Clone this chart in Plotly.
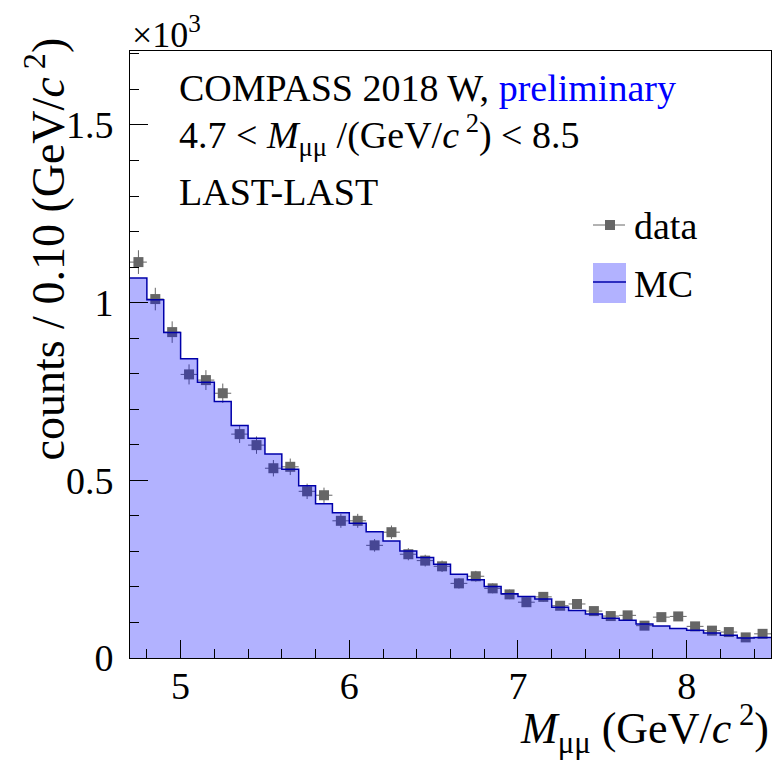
import numpy as np
import plotly.graph_objects as go

# Dimuon invariant mass bins (GeV/c^2), bin width 0.10
bin_centers = [4.75, 4.85, 4.95, 5.05, 5.15, 5.25, 5.35, 5.45, 5.55, 5.65,
               5.75, 5.85, 5.95, 6.05, 6.15, 6.25, 6.35, 6.45, 6.55, 6.65,
               6.75, 6.85, 6.95, 7.05, 7.15, 7.25, 7.35, 7.45, 7.55, 7.65,
               7.75, 7.85, 7.95, 8.05, 8.15, 8.25, 8.35, 8.45]

# Measured counts per bin
data_counts = [1114, 1010, 917, 798, 782, 745, 630, 599, 534, 538,
               469, 458, 386, 386, 317, 354, 292, 274, 258, 210,
               230, 196, 179, 157, 172, 147, 152, 132, 118, 120,
               91, 115, 117, 89, 77, 73, 58, 68]

# Monte Carlo expectation per bin
mc_counts = [1069, 1008, 916, 842, 776, 722, 654, 618, 574, 531,
             485, 434, 409, 379, 355, 329, 301, 283, 264, 236,
             220, 201, 181, 173, 166, 143, 134, 124, 112, 106,
             96, 90, 83, 78, 70, 64, 56, 58]

BIN_W = 0.10
SCALE = 1000.0  # y axis shown in units of 10^3

x_c = np.array(bin_centers)
y_data = np.array(data_counts) / SCALE
y_err = np.sqrt(np.array(data_counts)) / SCALE
y_mc = np.array(mc_counts) / SCALE

# step outline for the MC histogram
edges = np.append(x_c - BIN_W / 2, x_c[-1] + BIN_W / 2)
mc_steps = np.append(y_mc, y_mc[-1])

FONT = "Liberation Serif, Times New Roman, serif"
GRAY = "#666666"
MC_FILL = "rgba(0,0,255,0.30)"
MC_LINE = "#0000aa"

fig = go.Figure()

fig.add_trace(go.Scatter(
    x=x_c, y=y_data, mode="markers", name="data",
    marker=dict(symbol="square", size=10, color=GRAY),
    error_y=dict(type="data", array=y_err, visible=True,
                 thickness=1, width=0, color=GRAY),
    error_x=dict(type="constant", value=BIN_W / 2, visible=True,
                 thickness=1, width=0, color=GRAY),
    showlegend=False,
))

# MC histogram drawn over the data, semi-transparent
fig.add_trace(go.Scatter(
    x=edges, y=mc_steps, mode="lines", name="MC",
    line=dict(shape="hv", color=MC_LINE, width=1.5),
    fill="tozeroy", fillcolor=MC_FILL,
    showlegend=False,
))

L, R, T, B = 130, 6, 51, 102
W, H = 777, 760
PW = W - L - R
PH = H - T - B


def px(xp):
    return (xp - L) / PW


def py(yp):
    return (H - B - yp) / PH


annotations = [
    dict(text="×10<sup>3</sup>", x=0, y=1.0, xanchor="left", yanchor="bottom",
         font=dict(size=36), yshift=-6),
    dict(text="COMPASS 2018 W, <span style='color:#0000ff'>preliminary</span>",
         x=px(177), y=py(88), xanchor="left", yanchor="middle"),
    dict(text="4.7 < <i>M</i><sub>μμ</sub> /(GeV/<i>c</i><sup> 2</sup>) < 8.5",
         x=px(177), y=py(135), xanchor="left", yanchor="middle"),
    dict(text="LAST-LAST", x=px(177), y=py(192), xanchor="left", yanchor="middle"),
    dict(text="data", x=px(632), y=py(226), xanchor="left", yanchor="middle"),
    dict(text="MC", x=px(632), y=py(284), xanchor="left", yanchor="middle"),
    dict(text="<i>M</i><sub>μμ</sub> (GeV/<i>c</i><sup> 2</sup>)",
         x=1.0, y=py(729), xanchor="right", yanchor="middle",
         font=dict(size=44)),
    dict(text="counts / 0.10 (GeV/<i>c</i><sup> 2</sup>)",
         x=px(44), y=py(36), xanchor="center", yanchor="top",
         textangle=-90, font=dict(size=46)),
]
for a in annotations:
    a.setdefault("font", dict(size=38))
    a["font"] = dict(family=FONT, color="black", **a["font"])
    a.update(xref="paper", yref="paper", showarrow=False)

shapes = [
    # legend key: data
    dict(type="line", x0=px(593), x1=px(625), y0=py(225), y1=py(225),
         line=dict(color=GRAY, width=1)),
    dict(type="rect", x0=px(605), x1=px(615), y0=py(220), y1=py(230),
         fillcolor=GRAY, line=dict(width=0)),
    # legend key: MC
    dict(type="rect", x0=px(593), x1=px(626), y0=py(263), y1=py(303),
         fillcolor=MC_FILL, line=dict(width=0)),
    dict(type="line", x0=px(593), x1=px(626), y0=py(282), y1=py(282),
         line=dict(color=MC_LINE, width=1.5)),
]
for s in shapes:
    s.update(xref="paper", yref="paper")

fig.update_layout(
    width=W, height=H,
    margin=dict(l=L, r=R, t=T, b=B, pad=0),
    paper_bgcolor="white", plot_bgcolor="white",
    font=dict(family=FONT, size=38, color="black"),
    showlegend=False,
    annotations=annotations,
    shapes=shapes,
    xaxis=dict(
        range=[4.7, 8.5], showgrid=False, zeroline=False,
        showline=True, mirror=True, linecolor="black", linewidth=1,
        ticks="inside", ticklen=18, tickwidth=1, tickcolor="black",
        tick0=5, dtick=1,
        minor=dict(ticks="inside", ticklen=9, tickwidth=1, tickcolor="black",
                   dtick=0.2, tick0=4.8, showgrid=False),
        tickfont=dict(family=FONT, size=38),
        ticklabelstandoff=-6,
    ),
    yaxis=dict(
        range=[0, 1.708], showgrid=False, zeroline=False,
        showline=True, mirror=True, linecolor="black", linewidth=1,
        ticks="inside", ticklen=18, tickwidth=1, tickcolor="black",
        tickvals=[0, 0.5, 1, 1.5], ticktext=["0", "0.5", "1", "1.5"],
        minor=dict(ticks="inside", ticklen=9, tickwidth=1, tickcolor="black",
                   dtick=0.1, tick0=0, showgrid=False),
        tickfont=dict(family=FONT, size=38),
        ticklabelstandoff=8,
    ),
)

fig.write_html("out.html")
